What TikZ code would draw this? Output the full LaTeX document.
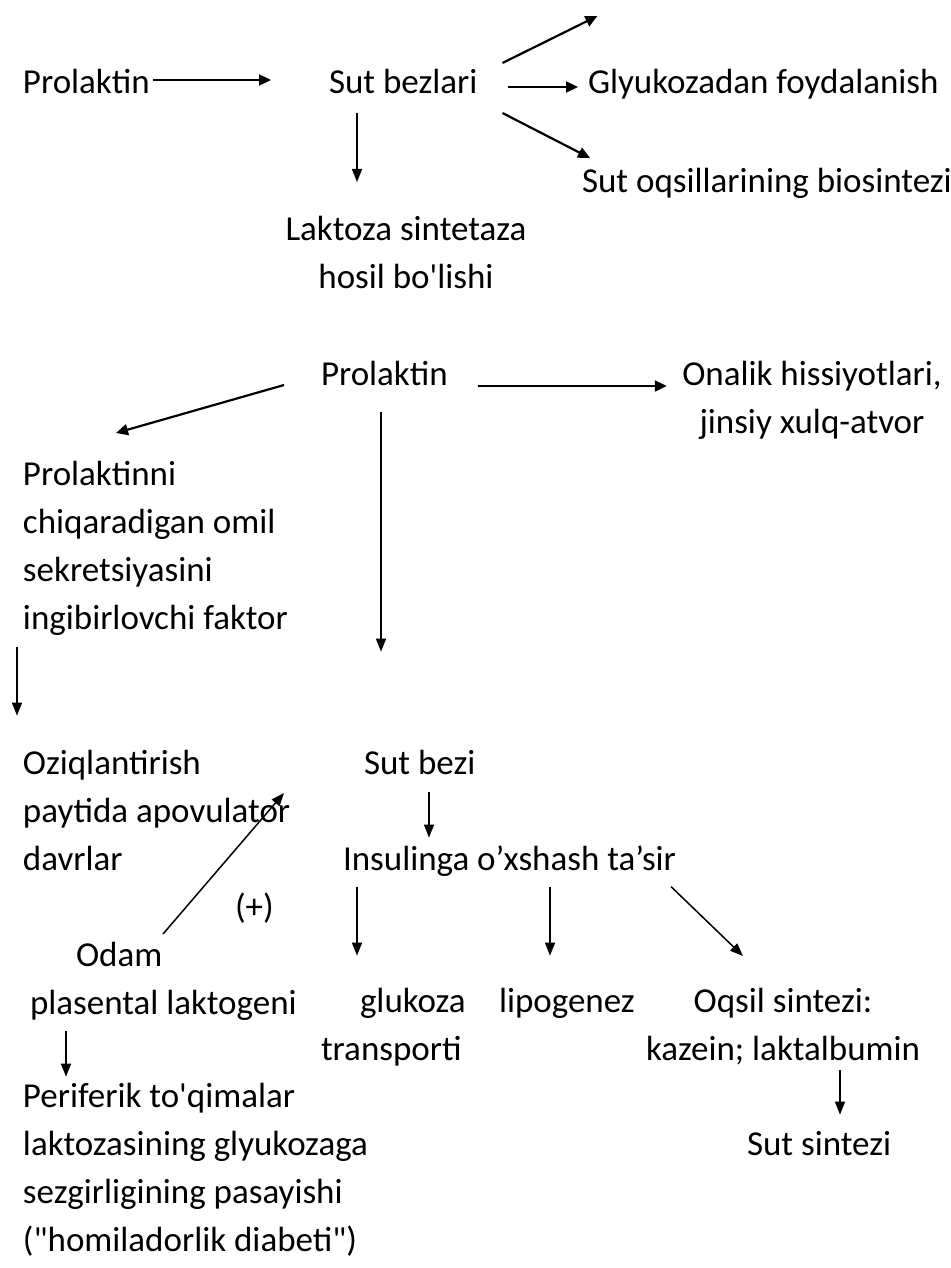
\documentclass[tikz,border=0pt]{standalone}
\usepackage{fontspec}
\setmainfont{Carlito}
\usetikzlibrary{arrows.meta}
\begin{document}
\begin{tikzpicture}[x=1pt,y=-1pt,
  lbl/.style={inner sep=0pt, outer sep=0pt, anchor=north west, align=left,
    font=\fontsize{35}{48}\selectfont,
    execute at begin node=\strut, execute at end node=\strut},
  clbl/.style={lbl, anchor=north, align=center},
  thick arr/.style={line width=2.2pt, -{Triangle[length=12pt,width=11pt]}},
  thin arr/.style={line width=1.5pt, -{Triangle[length=13pt,width=10pt]}}]
\path[fill=white, use as bounding box] (0,0) rectangle (950,1268);

% ---- block 1
\node[lbl] (pA) at (23,60) {Prolaktin};
\node[lbl] (sb) at (329,60) {Sut bezlari};
\node[lbl] (gl) at (588,60) {Glyukozadan foydalanish};
\node[lbl] (bio) at (582,159) {Sut oqsillarining biosintezi};
\node[clbl] (lak) at (406,207) {\strut Laktoza sintetaza\\hosil bo\textquotesingle lishi\strut};

\draw[thick arr] ([shift={(3,-4)}]pA.east) -- ([shift={(-58,-4)}]sb.west);
\draw[thick arr] ([shift={(25,-21)}]sb.east) -- ([shift={(120,-68)}]sb.east);
\draw[thick arr] ([shift={(31,3)}]sb.east) -- ([shift={(-10,3)}]gl.west);
\draw[thick arr] ([shift={(25,29)}]sb.east) -- ([shift={(8,-1)}]bio.north west);
\draw[thin arr] ([shift={(28,5)}]sb.south west) -- ++(0,69);

% ---- block 2
\node[lbl] (pB) at (321,352) {Prolaktin};
\node[clbl] (ona) at (812,352) {\strut Onalik hissiyotlari,\\jinsiy xulq-atvor\strut};
\node[lbl] (pin) at (23,452) {\strut Prolaktinni\\chiqaradigan omil\\sekretsiyasini\\ingibirlovchi faktor\strut};

\draw[thick arr] ([shift={(30,10)}]pB.east) -- ([shift={(-15.5,34)}]ona.north west);
\draw[thick arr] ([shift={(-37,9)}]pB.west) -- ([shift={(93,-19)}]pin.north west);
\draw[thin arr] ([shift={(60,11.6)}]pB.south west) -- ++(0,240);
\draw[thin arr] ([shift={(-6,2.6)}]pin.south west) -- ++(0,69);

% ---- block 3
\node[lbl] (oz) at (23,741) {\strut Oziqlantirish\\paytida apovulator\\davrlar\strut};
\node[lbl] (sbz) at (364,741) {Sut bezi};
\node[lbl] (ins) at (343,837) {Insulinga o’xshash ta’sir};
\node[lbl] (plus) at (235,885) {(+)};
\node[lbl] (odam) at (30,933) {\strut\hspace*{46pt}Odam\\plasental laktogeni\strut};
\node[lbl] (glu) at (321,979) {\strut\hspace*{39pt}glukoza\\transporti\strut};
\node[lbl] (lip) at (499,979) {lipogenez};
\node[clbl] (oq) at (783,979) {\strut Oqsil sintezi:\\kazein; laktalbumin\strut};
\node[lbl] (ss) at (747,1122) {Sut sintezi};
\node[lbl] (per) at (23,1074) {\strut Periferik to\textquotesingle qimalar\\laktozasining glyukozaga\\sezgirligining pasayishi\\(\textquotedbl homiladorlik diabeti\textquotedbl)\strut};

\draw[thin arr] ([shift={(65,2.6)}]sbz.south west) -- ++(0,46);
\draw[thin arr] ([shift={(14,1.6)}]ins.south west) -- ++(0,69);
\draw[thin arr] ([shift={(207,1.6)}]ins.south west) -- ++(0,69);
\draw[thin arr] ([shift={(328,1.6)}]ins.south west) -- ([shift={(-40,-23)}]oq.north);
\draw[thin arr] ([shift={(133,1)}]odam.north west) -- ([shift={(261,52)}]oz.north west);
\draw[thin arr] ([shift={(36,1.6)}]odam.south west) -- ++(0,46);
\draw[thin arr] ([shift={(57,-5.4)}]oq.south) -- ++(0,45);
\end{tikzpicture}
\end{document}
